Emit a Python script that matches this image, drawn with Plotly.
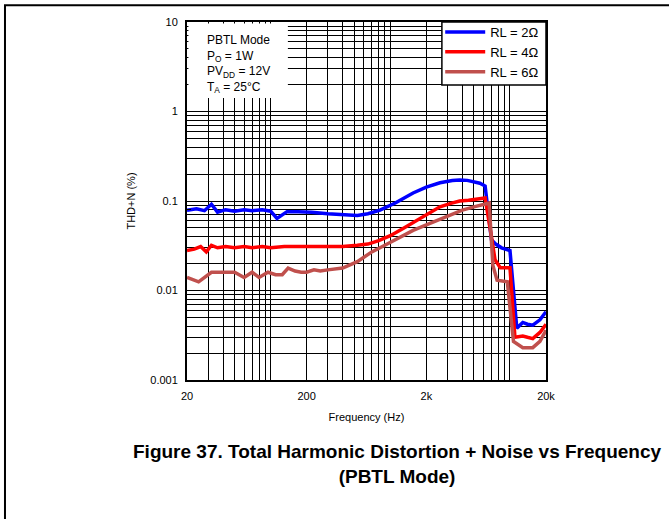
import numpy as np
import plotly.graph_objects as go

# RL = 2 ohm
f_2 = [20, 24, 28, 32, 36, 42, 50, 60, 70, 85, 100, 113, 125, 137, 170, 220, 300, 400, 530, 650, 820,
       1100, 1550, 2000, 2600, 3300, 3800, 4400, 4900, 5600, 6200, 7000, 7600, 8500, 10000, 11400,
       12800, 14000, 15500, 17800, 20000]
thd_2 = [0.079, 0.082, 0.078, 0.092, 0.075, 0.080, 0.077, 0.080, 0.078, 0.080, 0.077, 0.064, 0.070,
         0.076, 0.076, 0.075, 0.072, 0.070, 0.069, 0.072, 0.079, 0.095, 0.123, 0.143, 0.160, 0.169,
         0.172, 0.170, 0.165, 0.158, 0.147, 0.037, 0.033, 0.030, 0.028, 0.0038, 0.0044, 0.0042, 0.0041,
         0.0047, 0.0058]

# RL = 4 ohm
f_4 = [20, 23, 26, 29, 32, 36, 42, 50, 60, 70, 85, 100, 130, 170, 220, 300, 400, 530, 650, 800, 1000,
       1300, 1700, 2100, 2600, 3200, 3800, 4500, 5400, 6200, 7000, 7500, 8300, 10000, 11000, 12800,
       14000, 15500, 17800, 20000]
thd_4 = [0.028, 0.029, 0.031, 0.027, 0.032, 0.030, 0.031, 0.030, 0.031, 0.030, 0.031, 0.030, 0.031,
         0.031, 0.031, 0.031, 0.031, 0.032, 0.033, 0.036, 0.041, 0.050, 0.062, 0.074, 0.086, 0.094,
         0.100, 0.102, 0.105, 0.108, 0.040, 0.022, 0.018, 0.018, 0.0030, 0.0031, 0.0030, 0.0029,
         0.0034, 0.0042]

# RL = 6 ohm
f_6 = [20, 25, 32, 40, 50, 60, 70, 80, 95, 110, 125, 140, 160, 180, 200, 230, 260, 300, 400, 530, 700,
       900, 1200, 1550, 2000, 2600, 3300, 4000, 5000, 6000, 6700, 7200, 7800, 9500, 10700, 12800,
       14000, 15500, 17800, 20000]
thd_6 = [0.014, 0.0125, 0.016, 0.016, 0.016, 0.014, 0.016, 0.014, 0.016, 0.015, 0.015, 0.0178, 0.0165,
         0.016, 0.016, 0.017, 0.0165, 0.017, 0.0178, 0.021, 0.027, 0.032, 0.039, 0.047, 0.054, 0.062,
         0.071, 0.079, 0.086, 0.092, 0.095, 0.019, 0.013, 0.0125, 0.0027, 0.0023, 0.0023, 0.0023,
         0.0027, 0.0036]

names = ["RL = 2Ω", "RL = 4Ω", "RL = 6Ω"]
colors = ["#0000ff", "#ff0000", "#c0504d"]

x_major = [20, 200, 2000, 20000]
x_major_text = ["20", "200", "2k", "20k"]
y_major = [0.001, 0.01, 0.1, 1, 10]
y_major_text = ["0.001", "0.01", "0.1", "1", "10"]

x_minor = [m * 10 ** d for d in range(1, 5) for m in range(1, 10)]
x_minor = [v for v in x_minor if 20 <= v <= 20000 and v not in x_major]
y_minor = [round(m * 10.0 ** d, 6) for d in range(-3, 1) for m in range(2, 10)]

fig = go.Figure()
for fx, fy, name, col in zip([f_2, f_4, f_6], [thd_2, thd_4, thd_6], names, colors):
    fig.add_trace(go.Scatter(x=fx, y=fy, mode="lines", name=name,
                             line=dict(color=col, width=3.5)))

font = dict(family="Liberation Sans, Arial", size=11, color="black")

# white box behind the conditions text
fig.add_shape(type="rect", xref="x domain", yref="y domain", x0=0.004, x1=0.281, y0=0.788, y1=0.996,
              fillcolor="white", line_width=0, layer="above")
fig.add_annotation(xref="x domain", yref="y domain", x=0.05, y=0.975, xanchor="left", yanchor="top",
                   showarrow=False, align="left",
                   text="PBTL Mode<br>P<sub>O</sub> = 1W<br>PV<sub>DD</sub> = 12V<br>T<sub>A</sub> = 25°C",
                   font=dict(family="Liberation Sans, Arial", size=12, color="black"))

# legend frame (legend itself drawn on top without a border)
fig.add_shape(type="rect", xref="x domain", yref="y domain", x0=0.71, x1=1.0, y0=0.824, y1=1.0,
              fillcolor="white", line=dict(color="black", width=1.5), layer="above")

# page border (top and left edges of a frame that runs off the page)
fig.add_shape(type="rect", xref="paper", yref="paper", x0=-0.507, x1=1.5, y0=-0.6, y1=1.047,
              line=dict(color="black", width=2), fillcolor="rgba(0,0,0,0)", layer="below")

fig.add_annotation(xref="paper", yref="paper", x=0.586, y=-0.165, xanchor="center", yanchor="top",
                   showarrow=False, align="center",
                   text="<b>Figure 37. Total Harmonic Distortion + Noise vs Frequency<br>(PBTL Mode)</b>",
                   font=dict(family="Liberation Sans, Arial", size=19, color="black"))

axis_common = dict(showline=True, linecolor="black", linewidth=2, mirror=True,
                   showgrid=True, gridcolor="black", gridwidth=1, ticks="", zeroline=False,
                   tickfont=font, ticklabelstandoff=5)

fig.update_xaxes(type="log", range=[np.log10(20), np.log10(20000)],
                 tickmode="array", tickvals=x_major, ticktext=x_major_text,
                 minor=dict(tickmode="array", tickvals=x_minor, showgrid=True, gridcolor="black",
                            gridwidth=1, ticks="inside", ticklen=4, tickcolor="black"),
                 title=dict(text="Frequency (Hz)", font=font, standoff=12), **axis_common)
fig.update_yaxes(type="log", range=[-3, 1],
                 tickmode="array", tickvals=y_major, ticktext=y_major_text,
                 minor=dict(tickmode="array", tickvals=y_minor, showgrid=True, gridcolor="black",
                            gridwidth=1, ticks="inside", ticklen=4, tickcolor="black"),
                 title=dict(text="THD+N (%)", font=font, standoff=12), **axis_common)

fig.update_layout(
    width=669, height=519,
    margin=dict(l=187, r=123, t=22, b=139),
    paper_bgcolor="white", plot_bgcolor="white",
    font=font,
    legend=dict(x=0.995, y=1.014, xanchor="right", yanchor="top", bgcolor="rgba(0,0,0,0)",
                borderwidth=0,
                font=dict(family="Liberation Sans, Arial", size=13, color="black"),
                itemwidth=40, tracegroupgap=0),
)

fig.write_html("out.html", config={"displayModeBar": False},
               post_script="document.body.style.margin = '0';")
